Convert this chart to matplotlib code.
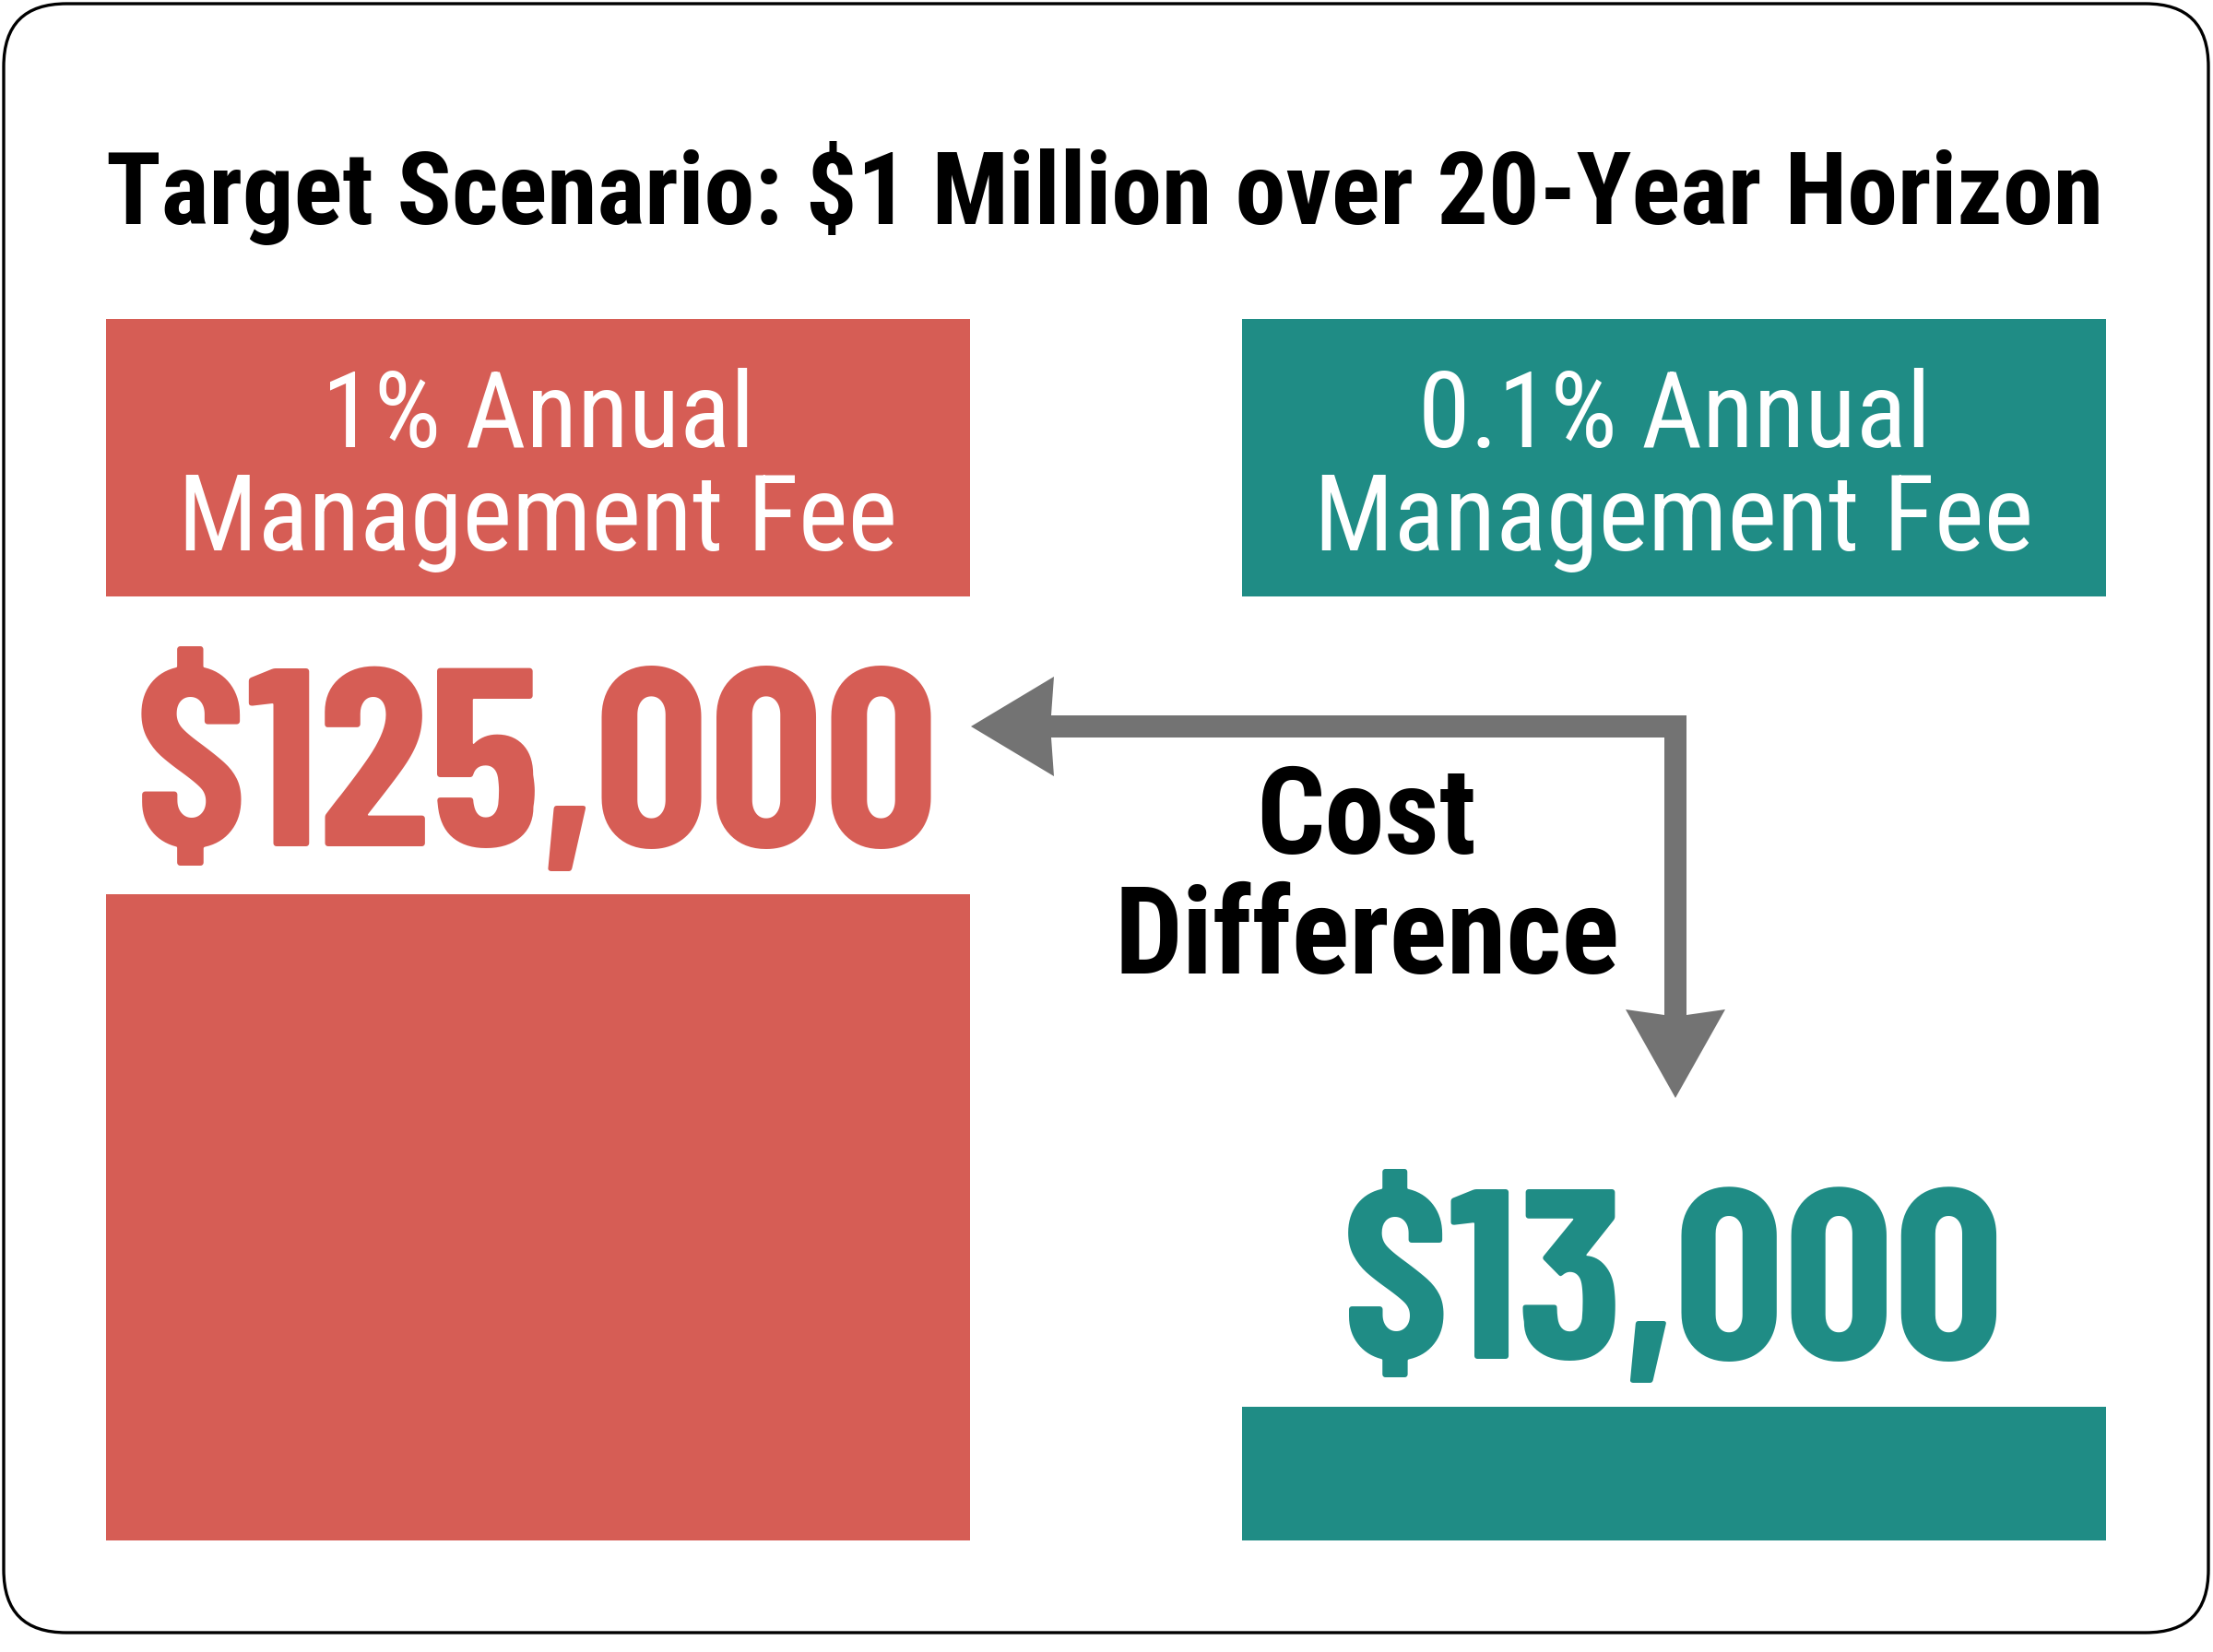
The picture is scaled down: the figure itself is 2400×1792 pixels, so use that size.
import matplotlib
matplotlib.use("Agg")
import matplotlib.pyplot as plt
from matplotlib import font_manager
from matplotlib.patches import FancyBboxPatch, Polygon

# data
title = "Target Scenario: $1 Million over 20-Year Horizon"
fee_labels = ["1% Annual\nManagement Fee", "0.1% Annual\nManagement Fee"]
fee_costs = [125000, 13000]
colors = ["#D65D55", "#1F8C85"]
diff_label = "Cost\nDifference"

names = set(f.name for f in font_manager.fontManager.ttflist)
def pick(*cands):
    for c in cands:
        if c in names:
            return c
    return "DejaVu Sans"
font_main = pick("Roboto Condensed", "Liberation Sans Narrow")
font_num = pick("Barlow Condensed", "Roboto Condensed")

W, H = 2400, 1792
fig = plt.figure(figsize=(12, 8.96), dpi=200)
fig.patch.set_facecolor("white")

# bar axes (log scale so the small bar stays visible)
bx = fig.add_axes([115 / W, (H - 1671) / H, 2169 / W, 701 / H])
bx.set_yscale("log")
bx.bar([0, 1], fee_costs, width=0.7606, color=colors, bottom=0)
bx.set_xlim(-0.3803, 1.3803)
bx.set_ylim(7203, 125000)
bx.axis("off")

# overlay in pixel coords
ax = fig.add_axes([0, 0, 1, 1])
ax.set_xlim(0, W)
ax.set_ylim(H, 0)
ax.axis("off")

ax.add_patch(FancyBboxPatch((4, 4), 2391, 1767, boxstyle="round,pad=0,rounding_size=68",
                            fc="none", ec="black", lw=1.2))

renderer = fig.canvas.get_renderer()

def fit(texts, width):
    bb = texts[0].get_window_extent(renderer)
    fs = texts[0].get_fontsize() * width / bb.width
    for t in texts:
        t.set_fontsize(fs)

def txt(x, y, s, fam=font_main, **kw):
    return ax.text(x, y, s, ha="center", va="baseline", family=fam, **kw)

t = txt(1198, 243, title, fontsize=40, weight="bold", color="black")
fit([t], 2166)

# header boxes
cx = [583.5, 1815.5]
for i in range(2):
    ax.add_patch(plt.Rectangle((cx[i] - 468.5, 346), 937, 301, color=colors[i], lw=0))
    l1, l2 = fee_labels[i].split("\n")
    a = txt(cx[i], 485, l1, fontsize=30, color="white")
    b = txt(cx[i], 597, l2, fontsize=30, color="white")
    fit([b, a], 781)

# value labels
v1 = txt(582, 918, f"${fee_costs[0]:,.0f}", fam=font_num, fontsize=80, weight="bold", color=colors[0])
fit([v1], 873)
v2 = txt(1814, 1474, f"${fee_costs[1]:,.0f}", fam=font_num, fontsize=80, weight="bold", color=colors[1])
fit([v2], 719)

# elbow arrow
pts = [(1053, 788), (1143, 734), (1140, 776), (1829, 776), (1829, 1101), (1871, 1095),
       (1817, 1191), (1763, 1095), (1805, 1101), (1805, 800), (1140, 800), (1143, 842)]
ax.add_patch(Polygon(pts, closed=True, fc="#737373", ec="none"))

c1, c2 = diff_label.split("\n")
d2 = txt(1483, 1056, c2, fontsize=40, weight="bold", color="black")
d1 = txt(1482, 926, c1, fontsize=40, weight="bold", color="black")
fit([d2, d1], 548)

fig.savefig("out.png", dpi=200, facecolor="white")
